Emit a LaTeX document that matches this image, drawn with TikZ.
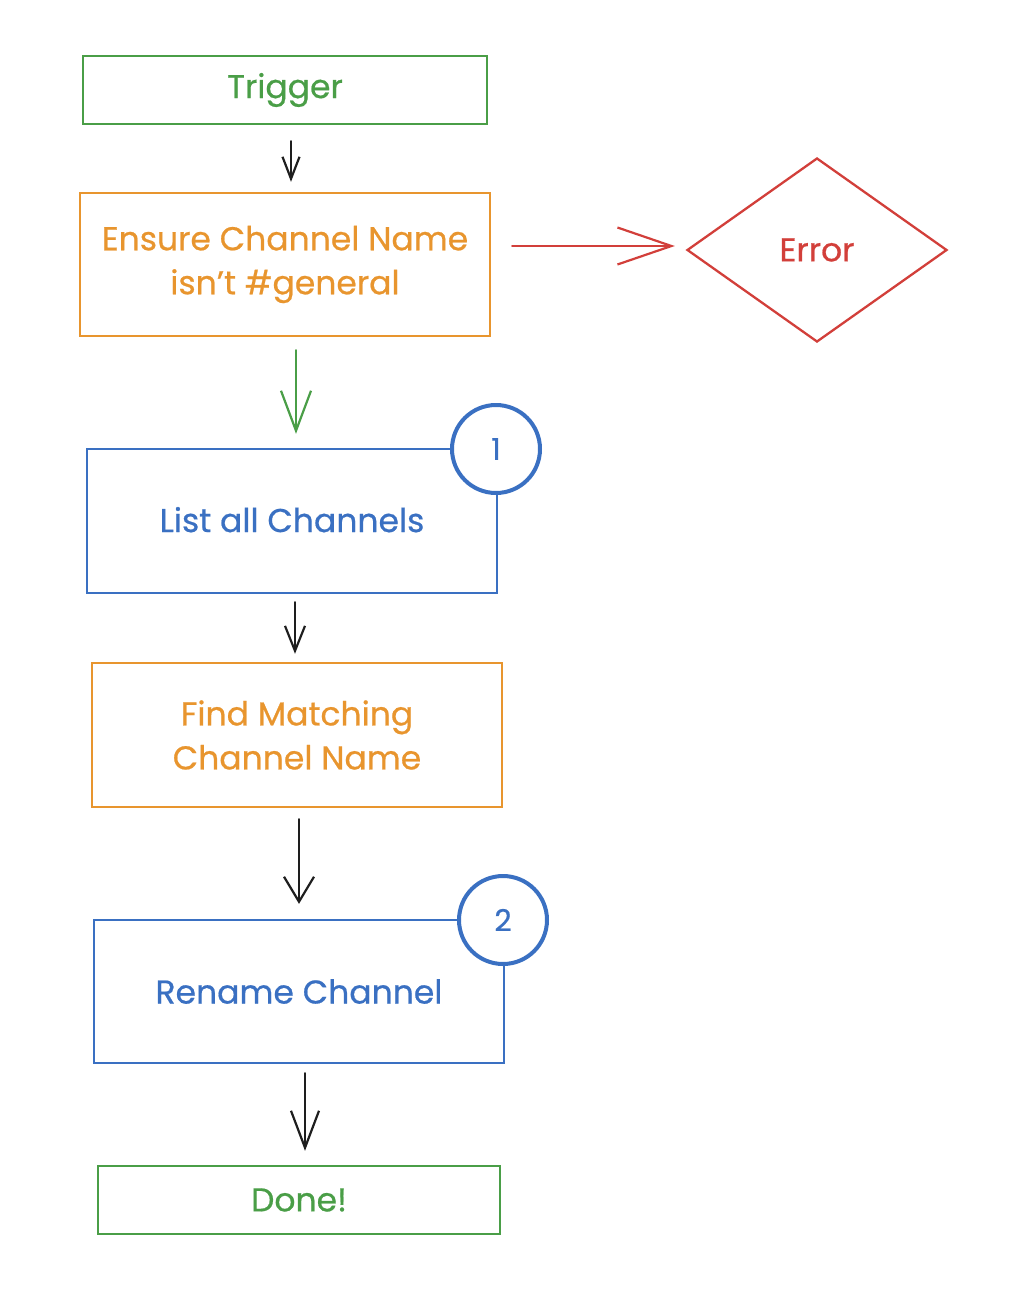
\documentclass[tikz,border=0pt]{standalone}
\usepackage{fontspec}
\setmainfont{Poppins}[FakeBold=0.6]
\usetikzlibrary{shapes.geometric,arrows.meta}
\definecolor{cgreen}{HTML}{4A9E47}
\definecolor{corange}{HTML}{E8952E}
\definecolor{cblue}{HTML}{3A70C2}
\definecolor{cred}{HTML}{D23F3A}
\definecolor{cblack}{HTML}{1E1E1E}
\begin{document}
\begin{tikzpicture}[x=1pt,y=-1pt,
  box/.style={draw, rectangle, line width=2.3pt, inner sep=0pt, align=center,
    font=\fontsize{33}{44}\selectfont},
  greenbox/.style={box, draw=cgreen, text=cgreen},
  orangebox/.style={box, draw=corange, text=corange},
  bluebox/.style={box, draw=cblue, text=cblue},
  badge/.style={draw=cblue, fill=white, circle, line width=4pt, minimum size=88pt,
    inner sep=0pt, text=cblue, font=\fontsize{30}{32}\selectfont},
  flow/.style={line width=2.2pt, line cap=round, line join=round}
]
\useasboundingbox (0,0) rectangle (1032,1314);

\node[greenbox, minimum width=404pt, minimum height=68pt] (trigger) at (285,90) {Trigger};
\node[orangebox, minimum width=410pt, minimum height=143pt] (ensure) at (285,264.5) {Ensure Channel Name\\isn't \#general};
\node[draw=cred, text=cred, diamond, line width=2.3pt, minimum width=260pt, minimum height=184pt,
  inner sep=0pt, font=\fontsize{33}{36}\selectfont] (error) at (817,250) {Error};
\node[bluebox, minimum width=410pt, minimum height=144pt] (list) at (292,521) {\raisebox{3pt}{List all Channels}};
\node[badge] (one) at (496,449) {1};
\node[orangebox, minimum width=410pt, minimum height=144pt] (find) at (297,735) {Find Matching\\Channel Name};
\node[bluebox, minimum width=410pt, minimum height=143pt] (rename) at (299,991.5) {Rename Channel};
\node[badge] (two) at (503,920) {2};
\node[greenbox, minimum width=402pt, minimum height=68pt] (done) at (299,1200) {Done!};

% connectors
\draw[flow, draw=cblack, -{Straight Barb[length=22pt,width=17pt]}, shorten <=16pt, shorten >=10pt]
  ([xshift=6pt]trigger.south) -- ([xshift=6pt]trigger.south |- ensure.north);
\draw[flow, draw=cred, -{Straight Barb[length=54pt,width=37pt]}, shorten <=21pt, shorten >=11pt]
  ([yshift=4pt]ensure.east |- error.west) -- ([yshift=4pt]error.west);
\draw[flow, draw=cgreen, -{Straight Barb[length=40pt,width=30pt]}, shorten <=13pt, shorten >=14pt]
  ([xshift=11pt]ensure.south) -- ([xshift=11pt]ensure.south |- list.north);
\draw[flow, draw=cblack, -{Straight Barb[length=25pt,width=20pt]}, shorten <=8pt, shorten >=8pt]
  ([xshift=3pt]list.south) -- ([xshift=3pt]list.south |- find.north);
\draw[flow, draw=cblack, -{Straight Barb[length=25pt,width=30pt]}, shorten <=11pt, shorten >=15pt]
  ([xshift=2pt]find.south) -- ([xshift=2pt]find.south |- rename.north);
\draw[flow, draw=cblack, -{Straight Barb[length=37pt,width=28pt]}, shorten <=9pt, shorten >=14pt]
  ([xshift=6pt]rename.south) -- ([xshift=6pt]rename.south |- done.north);
\end{tikzpicture}
\end{document}
